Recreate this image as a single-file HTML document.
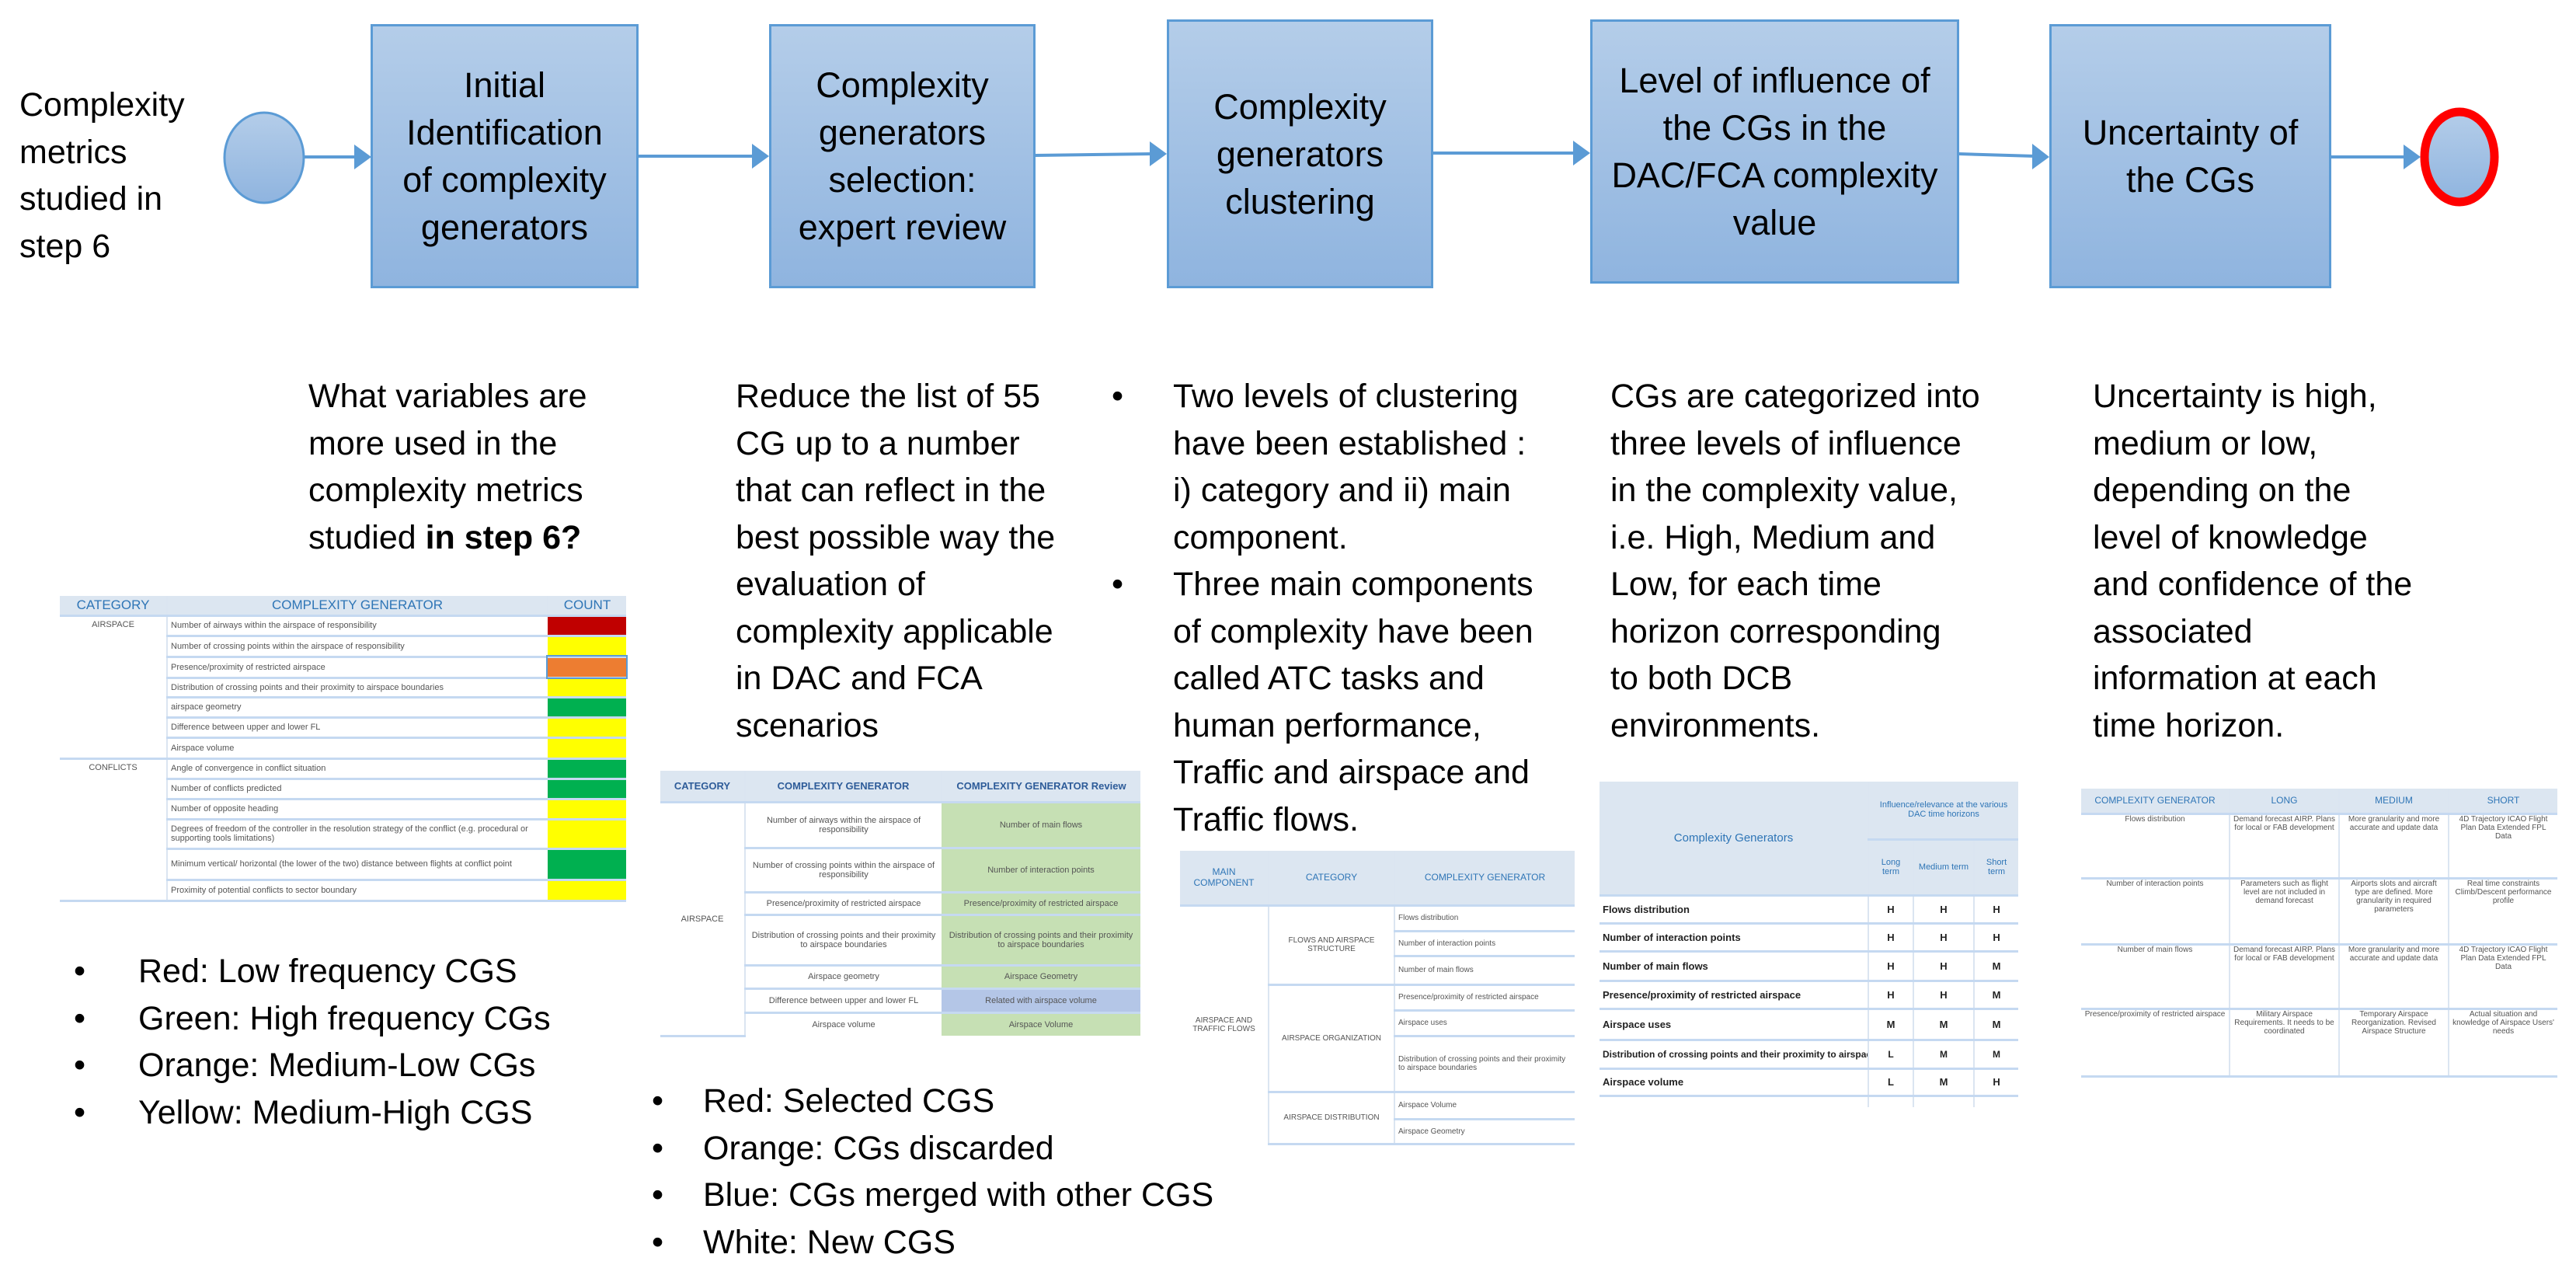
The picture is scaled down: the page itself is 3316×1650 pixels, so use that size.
<!DOCTYPE html>
<html><head><meta charset="utf-8">
<style>
html,body{margin:0;padding:0;background:#fff;}
body{width:3316px;height:1650px;position:relative;overflow:hidden;font-family:"Liberation Sans",sans-serif;color:#000;}
.t{position:absolute;font-size:43px;line-height:60.5px;white-space:nowrap;}
.box{position:absolute;box-sizing:border-box;border:3px solid #5b9bd5;background:linear-gradient(#b4cde9,#8fb4df);display:flex;align-items:center;justify-content:center;text-align:center;font-size:45px;line-height:61px;white-space:nowrap;}
.bl{position:absolute;font-size:43px;line-height:60.5px;}
table{position:absolute;border-collapse:collapse;table-layout:fixed;font-size:11px;color:#555;}
td,th{padding:0 4px;border-bottom:3px solid #c5d9f1;overflow:hidden;}
th{background:#dce6f1;color:#2e75b6;font-weight:normal;font-size:17px;}
.vl{border-left:2px solid #dbe5f1;}
.c{text-align:center;}
</style></head><body>

<svg width="3316" height="400" style="position:absolute;left:0;top:0">
<defs><linearGradient id="g" x1="0" y1="0" x2="0" y2="1"><stop offset="0" stop-color="#b4cde9"/><stop offset="1" stop-color="#8fb4df"/></linearGradient></defs>
<ellipse cx="340" cy="203" rx="51" ry="58" fill="url(#g)" stroke="#5b9bd5" stroke-width="3"/>
<ellipse cx="3166" cy="202" rx="45" ry="58" fill="url(#g)" stroke="#ff0000" stroke-width="11"/>
<g stroke="#5b9bd5" stroke-width="4" fill="none">
<line x1="391" y1="202" x2="460" y2="202"/>
<line x1="821" y1="201" x2="972" y2="201"/>
<line x1="1332" y1="200" x2="1484" y2="198"/>
<line x1="1844" y1="197" x2="2029" y2="197"/>
<line x1="2521" y1="198" x2="2620" y2="201"/>
<line x1="3000" y1="202" x2="3098" y2="202"/>
</g>
<g fill="#5b9bd5">
<polygon points="456,186 478,202 456,218"/>
<polygon points="968,185 990,201 968,217"/>
<polygon points="1480,182 1502,198 1480,214"/>
<polygon points="2025,181 2047,197 2025,213"/>
<polygon points="2616,185 2638,202 2616,218"/>
<polygon points="3094,186 3116,202 3094,218"/>
</g>
</svg>

<div class="t" style="left:25px;top:105px;">Complexity<br>metrics<br>studied in<br>step 6</div>

<div class="box" style="left:477px;top:31px;width:345px;height:340px;">Initial<br>Identification<br>of complexity<br>generators</div>
<div class="box" style="left:990px;top:31px;width:343px;height:340px;">Complexity<br>generators<br>selection:<br>expert review</div>
<div class="box" style="left:1502px;top:25px;width:343px;height:346px;">Complexity<br>generators<br>clustering</div>
<div class="box" style="left:2047px;top:25px;width:475px;height:340px;">Level of influence of<br>the CGs in the<br>DAC/FCA complexity<br>value</div>
<div class="box" style="left:2638px;top:31px;width:363px;height:340px;">Uncertainty of<br>the CGs</div>

<div class="t" style="left:397px;top:480px;">What variables are<br>more used in the<br>complexity metrics<br>studied <b>in step 6?</b></div>
<div class="t" style="left:947px;top:480px;">Reduce the list of 55<br>CG up to a number<br>that can reflect in the<br>best possible way the<br>evaluation of<br>complexity applicable<br>in DAC and FCA<br>scenarios</div>
<div class="t" style="left:1431px;top:480px;">•<br><br><br><br>•</div>
<div class="t" style="left:1510px;top:480px;">Two levels of clustering<br>have been established :<br>i) category and ii) main<br>component.<br>Three main components<br>of complexity have been<br>called ATC tasks and<br>human performance,<br>Traffic and airspace and<br>Traffic flows.</div>
<div class="t" style="left:2073px;top:480px;">CGs are categorized into<br>three levels of influence<br>in the complexity value,<br>i.e. High, Medium and<br>Low, for each time<br>horizon corresponding<br>to both DCB<br>environments.</div>
<div class="t" style="left:2694px;top:480px;">Uncertainty is high,<br>medium or low,<br>depending on the<br>level of knowledge<br>and confidence of the<br>associated<br>information at each<br>time horizon.</div>

<div class="t" style="left:95px;top:1220px;">•<br>•<br>•<br>•</div>
<div class="t" style="left:178px;top:1220px;">Red: Low frequency CGS<br>Green: High frequency CGs<br>Orange: Medium-Low CGs<br>Yellow: Medium-High CGS</div>
<div class="t" style="left:839px;top:1387px;">•<br>•<br>•<br>•</div>
<div class="t" style="left:905px;top:1387px;">Red: Selected CGS<br>Orange: CGs discarded<br>Blue: CGs merged with other CGS<br>White: New CGS</div>

<!-- T1 -->
<table style="left:77px;top:767px;width:729px;">
<colgroup><col style="width:138px"><col style="width:490px"><col style="width:101px"></colgroup>
<tr style="height:25px"><th>CATEGORY</th><th class="vl">COMPLEXITY GENERATOR</th><th class="vl">COUNT</th></tr>
<tr style="height:26px"><td rowspan="7" class="c" style="vertical-align:top;padding-top:4px">AIRSPACE</td><td class="vl">Number of airways within the airspace of responsibility</td><td style="background:#c00000"></td></tr>
<tr style="height:27px"><td class="vl">Number of crossing points within the airspace of responsibility</td><td style="background:#ffff00"></td></tr>
<tr style="height:27px"><td class="vl">Presence/proximity of restricted airspace</td><td style="background:#ed7d31;outline:2px solid #5b9bd5"></td></tr>
<tr style="height:25px"><td class="vl">Distribution of crossing points and their proximity to airspace boundaries</td><td style="background:#ffff00"></td></tr>
<tr style="height:26px"><td class="vl">airspace geometry</td><td style="background:#00b050"></td></tr>
<tr style="height:26px"><td class="vl">Difference between upper and lower FL</td><td style="background:#ffff00"></td></tr>
<tr style="height:27px"><td class="vl">Airspace volume</td><td style="background:#ffff00"></td></tr>
<tr style="height:26px"><td rowspan="6" class="c" style="vertical-align:top;padding-top:4px">CONFLICTS</td><td class="vl">Angle of convergence in conflict situation</td><td style="background:#00b050"></td></tr>
<tr style="height:26px"><td class="vl">Number of conflicts predicted</td><td style="background:#00b050"></td></tr>
<tr style="height:26px"><td class="vl">Number of opposite heading</td><td style="background:#ffff00"></td></tr>
<tr style="height:38px"><td class="vl">Degrees of freedom of the controller in the resolution strategy of the conflict (e.g. procedural or supporting tools limitations)</td><td style="background:#ffff00"></td></tr>
<tr style="height:40px"><td class="vl">Minimum vertical/ horizontal (the lower of the two) distance between flights at conflict point</td><td style="background:#00b050"></td></tr>
<tr style="height:27px"><td class="vl">Proximity of potential conflicts to sector boundary</td><td style="background:#ffff00"></td></tr>
</table>

<!-- T2 -->
<table style="left:850px;top:992px;width:618px;">
<colgroup><col style="width:109px"><col style="width:253px"><col style="width:256px"></colgroup>
<tr style="height:40px"><th style="font-size:13px;font-weight:bold;color:#2e5c99">CATEGORY</th><th class="vl" style="font-size:13px;font-weight:bold;color:#2e5c99">COMPLEXITY GENERATOR</th><th class="vl" style="font-size:13px;font-weight:bold;color:#2e5c99;white-space:nowrap">COMPLEXITY GENERATOR Review</th></tr>
<tr style="height:59px"><td rowspan="7" class="c">AIRSPACE</td><td class="vl c">Number of airways within the airspace of responsibility</td><td class="c" style="background:#c6e0b4">Number of main flows</td></tr>
<tr style="height:57px"><td class="vl c">Number of crossing points within the airspace of responsibility</td><td class="c" style="background:#c6e0b4">Number of interaction points</td></tr>
<tr style="height:29px"><td class="vl c">Presence/proximity of restricted airspace</td><td class="c" style="background:#c6e0b4">Presence/proximity of restricted airspace</td></tr>
<tr style="height:65px"><td class="vl c">Distribution of crossing points and their proximity to airspace boundaries</td><td class="c" style="background:#c6e0b4">Distribution of crossing points and their proximity to airspace boundaries</td></tr>
<tr style="height:30px"><td class="vl c">Airspace geometry</td><td class="c" style="background:#c6e0b4">Airspace Geometry</td></tr>
<tr style="height:31px"><td class="vl c">Difference between upper and lower FL</td><td class="c" style="background:#b4c6e7">Related with airspace volume</td></tr>
<tr style="height:30px"><td class="vl c" style="border-bottom:none">Airspace volume</td><td class="c" style="background:#c6e0b4;border-bottom:none">Airspace Volume</td></tr>
</table>

<!-- T3 -->
<table style="left:1519px;top:1095px;width:508px;font-size:10px;">
<colgroup><col style="width:114px"><col style="width:162px"><col style="width:232px"></colgroup>
<tr style="height:70px"><th style="font-size:12px">MAIN<br>COMPONENT</th><th class="vl" style="font-size:12px">CATEGORY</th><th class="vl" style="font-size:12px">COMPLEXITY GENERATOR</th></tr>
<tr style="height:33px"><td rowspan="8" class="c" style="border-bottom:none">AIRSPACE AND TRAFFIC FLOWS</td><td rowspan="3" class="vl c">FLOWS AND AIRSPACE STRUCTURE</td><td class="vl">Flows distribution</td></tr>
<tr style="height:32px"><td class="vl">Number of interaction points</td></tr>
<tr style="height:37px"><td class="vl">Number of main flows</td></tr>
<tr style="height:33px"><td rowspan="3" class="vl c">AIRSPACE ORGANIZATION</td><td class="vl">Presence/proximity of restricted airspace</td></tr>
<tr style="height:33px"><td class="vl">Airspace uses</td></tr>
<tr style="height:72px"><td class="vl">Distribution of crossing points and their proximity to airspace boundaries</td></tr>
<tr style="height:35px"><td rowspan="2" class="vl c">AIRSPACE DISTRIBUTION</td><td class="vl">Airspace Volume</td></tr>
<tr style="height:32px"><td class="vl">Airspace Geometry</td></tr>
</table>

<!-- T4 -->
<table style="left:2059px;top:1006px;width:539px;">
<colgroup><col style="width:346px"><col style="width:58px"><col style="width:78px"><col style="width:57px"></colgroup>
<tr style="height:74px"><th rowspan="2" style="font-size:15px">Complexity Generators</th><th colspan="3" class="vl" style="font-size:11px">Influence/relevance at the various DAC time horizons</th></tr>
<tr style="height:72px"><th class="vl" style="font-size:11px">Long term</th><th class="vl" style="font-size:11px">Medium term</th><th class="vl" style="font-size:11px">Short term</th></tr>
<tr style="height:36px;font-weight:bold;color:#222;font-size:13px"><td>Flows distribution</td><td class="vl c">H</td><td class="vl c">H</td><td class="vl c">H</td></tr>
<tr style="height:36px;font-weight:bold;color:#222;font-size:13px"><td>Number of interaction points</td><td class="vl c">H</td><td class="vl c">H</td><td class="vl c">H</td></tr>
<tr style="height:38px;font-weight:bold;color:#222;font-size:13px"><td>Number of main flows</td><td class="vl c">H</td><td class="vl c">H</td><td class="vl c">M</td></tr>
<tr style="height:36px;font-weight:bold;color:#222;font-size:13px"><td>Presence/proximity of restricted airspace</td><td class="vl c">H</td><td class="vl c">H</td><td class="vl c">M</td></tr>
<tr style="height:40px;font-weight:bold;color:#222;font-size:13px"><td>Airspace uses</td><td class="vl c">M</td><td class="vl c">M</td><td class="vl c">M</td></tr>
<tr style="height:37px;font-weight:bold;color:#222;font-size:12px"><td style="white-space:nowrap">Distribution of crossing points and their proximity to airspace boundaries</td><td class="vl c">L</td><td class="vl c">M</td><td class="vl c">M</td></tr>
<tr style="height:35px;font-weight:bold;color:#222;font-size:13px"><td>Airspace volume</td><td class="vl c">L</td><td class="vl c">M</td><td class="vl c">H</td></tr>
<tr style="height:15px;font-size:9px"><td style="border-bottom:none"></td><td class="vl" style="border-bottom:none"></td><td class="vl" style="border-bottom:none"></td><td class="vl" style="border-bottom:none"></td></tr>
</table>

<!-- T5 -->
<table style="left:2679px;top:1015px;width:613px;font-size:10px;">
<colgroup><col style="width:191px"><col style="width:141px"><col style="width:141px"><col style="width:140px"></colgroup>
<tr style="height:32px"><th style="font-size:12px">COMPLEXITY GENERATOR</th><th class="vl" style="font-size:12px">LONG</th><th class="vl" style="font-size:12px">MEDIUM</th><th class="vl" style="font-size:12px">SHORT</th></tr>
<tr style="height:83px;vertical-align:top"><td class="c">Flows distribution</td><td class="vl c">Demand forecast AIRP. Plans for local or FAB development</td><td class="vl c">More granularity and more accurate and update data</td><td class="vl c">4D Trajectory ICAO Flight Plan Data Extended FPL Data</td></tr>
<tr style="height:85px;vertical-align:top"><td class="c">Number of interaction points</td><td class="vl c">Parameters such as flight level are not included in demand forecast</td><td class="vl c">Airports slots and aircraft type are defined. More granularity in required parameters</td><td class="vl c">Real time constraints Climb/Descent performance profile</td></tr>
<tr style="height:83px;vertical-align:top"><td class="c">Number of main flows</td><td class="vl c">Demand forecast AIRP. Plans for local or FAB development</td><td class="vl c">More granularity and more accurate and update data</td><td class="vl c">4D Trajectory ICAO Flight Plan Data Extended FPL Data</td></tr>
<tr style="height:87px;vertical-align:top"><td class="c">Presence/proximity of restricted airspace</td><td class="vl c">Military Airspace Requirements. It needs to be coordinated</td><td class="vl c">Temporary Airspace Reorganization. Revised Airspace Structure</td><td class="vl c">Actual situation and knowledge of Airspace Users' needs</td></tr>
</table>

</body></html>
